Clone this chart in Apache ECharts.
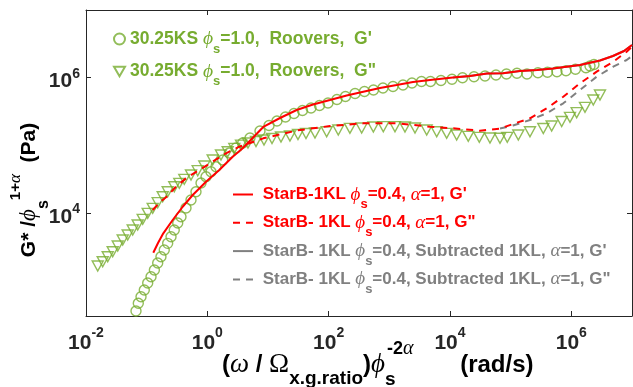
<!DOCTYPE html>
<html>
<head>
<meta charset="utf-8">
<script src="https://cdn.jsdelivr.net/npm/echarts@6/dist/echarts.min.js"></script>
<style>
html, body { margin: 0; padding: 0; background: #ffffff; }
#chart { width: 633px; height: 387px; }
</style>
</head>
<body>
<div id="chart"></div>
<script>
// Reduced storage modulus G' of 30.25KS (circles)
const roverGpOmega = [0.0667, 0.0728, 0.0807, 0.0914, 0.104, 0.118, 0.134, 0.152, 0.172, 0.195, 0.222, 0.252, 0.285, 0.325, 0.368, 0.445, 0.538, 0.650, 0.787, 0.951, 1.149, 1.389, 1.791, 2.30, 2.965, 3.83,
  5.05, 7.38, 10.4, 14.06, 19.4, 26.8, 37.0, 51.2, 70.6, 97.5, 137, 189, 272, 389, 548, 785, 1148, 1679, 2362, 3388, 4767, 7100, 10790, 16070, 24850, 37760, 57300, 85300, 127000, 185800, 281800, 404400, 579600, 816600, 1.17e6, 1.74e6, 2.03e6, 2.36e6];
const roverGpModulus = [356, 462, 578, 726, 922, 1143, 1435, 1820, 2256, 2834, 3557, 4457, 5598, 7100, 8810, 11830, 15530, 20610, 27730, 34360, 40740, 48300, 60650, 76900, 91200, 108200,
  128300, 162600, 196200, 228600, 261900, 295100, 326700, 355900, 387500, 421700, 475400, 526300, 583000, 623700, 656600, 703100, 739800, 778500, 833700, 877000, 877000, 907500, 945600, 998000, 1033000, 1057000, 1094000, 1132000, 1159000, 1132000, 1183000, 1199000, 1225000, 1267000, 1.328e6, 1.403e6, 1.486e6, 1.564e6];

// Reduced loss modulus G'' of 30.25KS (triangles)
const roverGppOmega = [0.0156, 0.01884, 0.0228, 0.02754, 0.03334, 0.04027, 0.04866, 0.05888, 0.07112, 0.086, 0.104, 0.1257, 0.152, 0.1837, 0.2222, 0.2852, 0.3451, 0.417, 0.538, 0.6937, 0.8913, 1.225, 1.679, 2.166, 2.782, 3.589,
  4.677, 6.339, 8.59, 11.64, 16.37, 23.0, 31.2, 42.3, 59.5, 92.7, 144, 224, 350, 545, 795, 1239, 1811, 2649, 4130, 6039, 8810, 12880, 20000, 30400, 45600, 66700, 87900, 133700, 208000, 345000, 474000, 693000, 950000, 1.225e6, 1.679e6, 2.30e6, 2.965e6];
const roverGppModulus = [1644, 1903, 2256, 2675, 3245, 3981, 4721, 5598, 6637, 8054, 9886, 11720, 14190, 17380, 20610, 24430, 27420, 31420, 36390, 42170, 49430, 60650, 71940, 80380, 90300, 100900,
  108200, 113800, 119700, 126100, 132700, 137200, 144400, 149300, 152000, 158800, 168300, 178300, 180300, 186600, 188400, 188400, 186600, 180300, 168300, 158800, 150400, 141900, 135800, 131200, 128300, 127100, 131200, 141900, 158800, 177200, 192800, 224900, 259400, 303400, 364700, 467400, 554000];

// StarB-1KL, phi_s = 0.4, alpha = 1: G' (solid red)
const starGpOmega = [0.1286, 0.1538, 0.188, 0.2685, 0.3926, 0.574, 0.951, 1.574, 2.618, 3.83, 8.36, 15.78, 29.7, 55.2, 105.2, 198, 372, 701, 1321, 2455, 4677, 11190, 21330, 40740, 74650, 142200, 271600, 498000, 1.387e6, 2.965e6, 4.85e6, 7.38e6, 1e7];
const starGpModulus = [2584, 3597, 5000, 7870, 12360, 18420, 28970, 43150, 67800, 90300, 186600, 253300, 332500, 401000, 467400, 544600, 619800, 703100, 778500, 863000, 923000, 1.005e6, 1.057e6, 1.151e6, 1.165e6, 1.253e6, 1.30e6, 1.365e6, 1.538e6, 1.793e6, 2.09e6, 2.478e6, 3.04e6];

// StarB-1KL, phi_s = 0.4, alpha = 1: G'' (dashed red)
const starGppOmega = [0.1257, 0.166, 0.2138, 0.304, 0.445, 0.7362, 1.225, 2.032, 3.365, 8.36, 29.7, 105.2, 372, 1321, 4677, 11320, 31190, 66700, 109100, 208000, 392600, 736200, 1.387e6, 2.618e6, 4.91e6, 8.17e6, 1e7];
const starGppModulus = [11060, 14520, 17380, 24430, 32510, 43150, 57260, 76200, 95300, 126800, 165500, 192800, 211400, 211400, 188400, 178300, 164400, 177000, 206500, 250600, 352400, 522700, 824900, 1.225e6, 1.72e6, 2.42e6, 2.87e6];

// StarB-1KL with the 1KL contribution subtracted: G' (solid gray) and G'' (dashed gray)
const subGpOmega = [11190, 21330, 40740, 74650, 142200, 271600, 498000, 1.387e6, 2.965e6, 4.85e6, 7.38e6, 1e7];
const subGpModulus = [1.005e6, 1.057e6, 1.151e6, 1.165e6, 1.253e6, 1.30e6, 1.365e6, 1.538e6, 1.793e6, 2.09e6, 2.478e6, 3.04e6];
const subGppOmega = [66700, 109100, 208000, 392600, 736200, 1.387e6, 2.618e6, 4.91e6, 8.17e6, 1e7];
const subGppModulus = [177000, 196300, 236600, 297200, 417800, 656600, 1.033e6, 1.452e6, 1.823e6, 2.09e6];

// Labelled decades on each axis
const xTickValues = [0.01, 1, 100, 1e4, 1e6];
const yTickValues = [1e4, 1e6];

const GREEN = '#77ac30';
const RED = '#ff0000';
const GRAY = '#808080';
const INK = '#262626';
const SANS = '"Liberation Sans", Arial, Helvetica, sans-serif';
const SERIF = '"Liberation Serif", "Times New Roman", serif';

const pairs = (xs, ys) => xs.map((x, i) => [x, ys[i]]);

const NAMES = {
  gp: "30.25KS G'",
  gpp: '30.25KS G"',
  sGp: "StarB-1KL G'",
  sGpp: 'StarB-1KL G"',
  uGp: "StarB-1KL subtracted G'",
  uGpp: 'StarB-1KL subtracted G"'
};

// Legend strings with Greek symbols and subscripts
const legendText = {};
legendText[NAMES.gp] = "{tg|30.25KS }{gg|ϕ}{sg|s}{tg|=1.0,  Roovers,  G'}";
legendText[NAMES.gpp] = '{tg|30.25KS }{gg|ϕ}{sg|s}{tg|=1.0,  Roovers,  G"}';
legendText[NAMES.sGp] = "{tr| StarB-1KL }{gr|ϕ}{sr|s}{tr|=0.4, }{gr|α}{tr|=1, G'}";
legendText[NAMES.sGpp] = '{tr| StarB- 1KL }{gr|ϕ}{sr|s}{tr|=0.4, }{gr|α}{tr|=1, G"}';
legendText[NAMES.uGp] = "{tk| StarB- 1KL }{gk|ϕ}{sk|s}{tk|=0.4, Subtracted 1KL, }{gk|α}{tk|=1, G'}";
legendText[NAMES.uGpp] = '{tk| StarB- 1KL }{gk|ϕ}{sk|s}{tk|=0.4, Subtracted 1KL, }{gk|α}{tk|=1, G"}';

function legendRich(size) {
  const out = {};
  [['g', GREEN], ['r', RED], ['k', GRAY]].forEach(([k, c]) => {
    out['t' + k] = { fontFamily: SANS, fontWeight: 'bold', fontSize: size, color: c };
    out['g' + k] = { fontFamily: SERIF, fontStyle: 'italic', fontSize: size + 2, color: c };
    out['s' + k] = { fontFamily: SANS, fontWeight: 'bold', fontSize: 13, color: c, padding: [20, 0, 0, 0] };
  });
  return out;
}

const tickRich = (basePad, supPad) => ({
  b: { fontFamily: SANS, fontWeight: 'bold', fontSize: 21, color: INK, padding: basePad },
  e: { fontFamily: SANS, fontWeight: 'bold', fontSize: 14, color: INK, padding: supPad }
});
const powerLabel = v => '{b|10}{e|' + Math.round(Math.log10(v)) + '}';

const TRI = 'path://M0,0L10,0L5,8.66Z';
const SOLID_ICON = 'path://M0,0H20V2H0Z';
const DASH_ICON = 'path://M0,0H7V2H0Z M13,0H20V2H13Z';
const hollow = { color: 'rgba(255,255,255,0)', borderColor: GREEN, borderWidth: 1.4 };

const frameX = (pos, show) => ({
  type: 'log', logBase: 10, min: 0.01, max: 1e7, position: pos,
  axisLine: { show: true, lineStyle: { color: INK, width: 1 } },
  axisTick: { show: true, inside: true, length: 5, customValues: xTickValues, lineStyle: { color: INK, width: 1 } },
  axisLabel: show ? { show: true, customValues: xTickValues, formatter: powerLabel, rich: tickRich([0, 0, 0, 0], [0, 0, 21, 0]), margin: 10 } : { show: false },
  splitLine: { show: false }, minorTick: { show: false }, minorSplitLine: { show: false }
});
const frameY = (pos, show) => ({
  type: 'log', logBase: 10, min: 300, max: 1e7, position: pos,
  axisLine: { show: true, lineStyle: { color: INK, width: 1 } },
  axisTick: { show: true, inside: true, length: 5, customValues: yTickValues, lineStyle: { color: INK, width: 1 } },
  axisLabel: show ? { show: true, customValues: yTickValues, formatter: powerLabel, rich: tickRich([8, 0, 0, 0], [0, 0, 7, 0]), margin: 6 } : { show: false },
  splitLine: { show: false }, minorTick: { show: false }, minorSplitLine: { show: false }
});

const chart = echarts.init(document.getElementById('chart'), null, { renderer: 'canvas' });
chart.setOption({
  animation: false,
  backgroundColor: '#ffffff',
  grid: { left: 86, right: 1, top: 10, bottom: 71, containLabel: false },
  xAxis: [frameX('bottom', true), frameX('top', false)],
  yAxis: [frameY('left', true), frameY('right', false)],
  legend: [
    {
      data: [NAMES.gp, NAMES.gpp], orient: 'vertical', left: 113, top: 29, padding: 0,
      itemWidth: 11, itemHeight: 11, itemGap: 6, selectedMode: false,
      formatter: n => legendText[n], textStyle: { rich: legendRich(17.5) }
    },
    {
      data: [
        { name: NAMES.sGp, icon: SOLID_ICON },
        { name: NAMES.sGpp, icon: DASH_ICON },
        { name: NAMES.uGp, icon: SOLID_ICON },
        { name: NAMES.uGpp, icon: DASH_ICON }
      ],
      orient: 'vertical', left: 233, top: 185, padding: 0,
      itemWidth: 20, itemHeight: 2, itemGap: 2.3, selectedMode: false,
      formatter: n => legendText[n], textStyle: { rich: legendRich(17) }
    }
  ],
  series: [
    { name: NAMES.gp, type: 'scatter', data: pairs(roverGpOmega, roverGpModulus), symbol: 'circle', symbolSize: 10, itemStyle: hollow, z: 2 },
    { name: NAMES.gpp, type: 'scatter', data: pairs(roverGppOmega, roverGppModulus), symbol: TRI, symbolSize: [11, 10], itemStyle: hollow, z: 2 },
    { name: NAMES.uGp, type: 'line', data: pairs(subGpOmega, subGpModulus), showSymbol: false, symbol: 'none', lineStyle: { color: GRAY, width: 2 }, itemStyle: { color: GRAY }, z: 3 },
    { name: NAMES.uGpp, type: 'line', data: pairs(subGppOmega, subGppModulus), showSymbol: false, symbol: 'none', lineStyle: { color: GRAY, width: 2, type: [7, 6] }, itemStyle: { color: GRAY }, z: 3 },
    { name: NAMES.sGp, type: 'line', data: pairs(starGpOmega, starGpModulus), showSymbol: false, symbol: 'none', lineStyle: { color: RED, width: 2 }, itemStyle: { color: RED }, z: 4 },
    { name: NAMES.sGpp, type: 'line', data: pairs(starGppOmega, starGppModulus), showSymbol: false, symbol: 'none', lineStyle: { color: RED, width: 2, type: [7, 6] }, itemStyle: { color: RED }, z: 4 }
  ],
  graphic: [
    {
      type: 'text', x: 29, y: 190, rotation: Math.PI / 2,
      style: {
        text: '{m|G* /}{g|ϕ}{s|s}{p|1+}{pg|α}{m|  (Pa)}',
        align: 'center', verticalAlign: 'middle',
        rich: {
          m: { fontFamily: SANS, fontWeight: 'bold', fontSize: 21, color: INK },
          g: { fontFamily: SERIF, fontStyle: 'italic', fontSize: 23, color: INK },
          s: { fontFamily: SANS, fontWeight: 'bold', fontSize: 16, color: INK, padding: [30, 0, 0, 0] },
          p: { fontFamily: SANS, fontWeight: 'bold', fontSize: 15, color: INK, padding: [0, 0, 26, 0] },
          pg: { fontFamily: SERIF, fontStyle: 'italic', fontSize: 17, color: INK, padding: [0, 0, 26, 0] }
        }
      }
    },
    {
      type: 'text', x: 222, y: 365,
      style: {
        text: '{m|(}{g|ω}{m| / }{o|Ω}{sub|x.g.ratio}{m|)}{g|ϕ}{s|s}{p|-2}{pg|α}{m|       (rad/s)}',
        align: 'left', verticalAlign: 'middle',
        rich: {
          m: { fontFamily: SANS, fontWeight: 'bold', fontSize: 24, color: INK },
          g: { fontFamily: SERIF, fontStyle: 'italic', fontSize: 27, color: INK },
          o: { fontFamily: SERIF, fontSize: 27, color: INK },
          sub: { fontFamily: SANS, fontWeight: 'bold', fontSize: 19, color: INK, padding: [28, 0, 0, 0] },
          s: { fontFamily: SANS, fontWeight: 'bold', fontSize: 19, color: INK, padding: [30, 0, 0, 0], width: 2 },
          p: { fontFamily: SANS, fontWeight: 'bold', fontSize: 18, color: INK, padding: [0, 0, 32, 0] },
          pg: { fontFamily: SERIF, fontStyle: 'italic', fontSize: 20, color: INK, padding: [0, 0, 32, 0] }
        }
      }
    }
  ]
});
</script>
</body>
</html>
